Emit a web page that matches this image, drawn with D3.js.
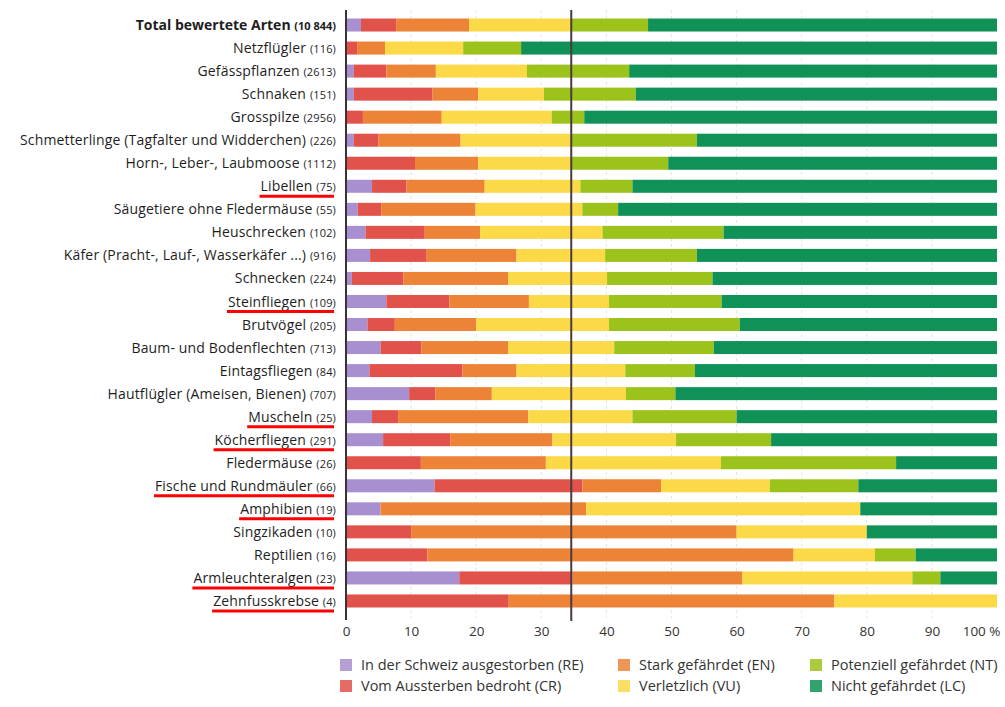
<!DOCTYPE html>
<html><head><meta charset="utf-8">
<script src="https://cdn.jsdelivr.net/npm/d3@7"></script>
<style>
html,body{margin:0;padding:0;background:#fff;}
svg{display:block;font-family:"Open Sans",sans-serif;}
</style></head>
<body><svg id="chart" width="1005" height="707"></svg>
<script>
// ---- data ----
const categories = ["Total bewertete Arten","Netzflügler","Gefässpflanzen","Schnaken","Grosspilze",
 "Schmetterlinge (Tagfalter und Widderchen)","Horn-, Leber-, Laubmoose","Libellen","Säugetiere ohne Fledermäuse",
 "Heuschrecken","Käfer (Pracht-, Lauf-, Wasserkäfer ...)","Schnecken","Steinfliegen","Brutvögel",
 "Baum- und Bodenflechten","Eintagsfliegen","Hautflügler (Ameisen, Bienen)","Muscheln","Köcherfliegen",
 "Fledermäuse","Fische und Rundmäuler","Amphibien","Singzikaden","Reptilien","Armleuchteralgen","Zehnfusskrebse"];
const counts = ["10 844","116","2613","151","2956","226","1112","75","55","102","916","224","109","205","713","84","707","25","291","26","66","19","10","16","23","4"];
const RE = [2.3,0,1.2,1.2,0,1.2,0,4.0,1.8,3.0,3.7,0.9,6.2,3.3,5.3,3.6,9.7,4,5.7,0,13.6,5.3,0,0,17.4,0];
const CR = [5.4,1.7,5.0,12.1,2.6,3.8,10.6,5.3,3.6,9.1,8.7,7.9,9.7,4.2,6.3,14.3,4.0,4,10.3,11.5,22.7,0,10,12.5,17.4,25];
const EN = [11.2,4.3,7.6,7.0,12.1,12.6,9.7,12.0,14.5,8.5,13.8,16.1,12.2,12.5,13.3,8.3,8.7,20,15.7,19.2,12.1,31.6,50,56.25,26.1,50];
const VU = [15.7,12.0,14.0,10.1,16.9,17.1,14.4,14.7,16.4,18.8,13.6,15.2,12.3,20.4,16.3,16.7,20.6,16,19.0,26.9,16.7,42.1,20,12.5,26.1,25];
const NT = [11.8,8.9,15.7,14.1,5.0,19.2,14.8,8.0,5.5,18.6,14.1,16.2,17.3,20.1,15.3,10.7,7.6,16,14.6,26.9,13.6,0,0,6.25,4.3,0];
const LC = [53.6,73.1,56.5,55.5,63.4,46.1,50.5,56.0,58.2,42.0,46.1,43.7,42.3,39.5,43.5,46.4,49.4,40,34.7,15.5,21.3,21.0,20,12.5,8.7,0];
const seriesKeys = ["RE","CR","EN","VU","NT","LC"];
const seriesNames = ["In der Schweiz ausgestorben (RE)","Vom Aussterben bedroht (CR)","Stark gefährdet (EN)","Verletzlich (VU)","Potenziell gefährdet (NT)","Nicht gefährdet (LC)"];
const seriesColors = ["#a88fcf","#e1524b","#ec8337","#fbd947","#9cc31c","#0f9157"];
const underlined = ["Libellen","Steinfliegen","Muscheln","Köcherfliegen","Fische und Rundmäuler","Amphibien","Armleuchteralgen","Zehnfusskrebse"];
const tickValues = [0,10,20,30,40,50,60,70,80,90,100];
const tickLabels = ["0","10","20","30","40","50","60","70","80","90","100 %"];

// ---- build table ----
const table = categories.map((c,i)=>({cat:c,count:counts[i],RE:RE[i],CR:CR[i],EN:EN[i],VU:VU[i],NT:NT[i],LC:LC[i]}));
const threatenedTotal = RE[0]+CR[0]+EN[0]+VU[0];

const svg = d3.select("#chart");
const x = d3.scaleLinear().domain([0,100]).range([346,997]);
const y = d3.scaleBand().domain(categories).range([13.5,612.5]).paddingInner(0.435).paddingOuter(0.2175);
const color = d3.scaleOrdinal().domain(seriesKeys).range(seriesColors);

// gridlines
svg.append("g").selectAll("line").data(tickValues.filter(v=>v>0&&v<100)).join("line")
  .attr("x1",d=>x(d)).attr("x2",d=>x(d)).attr("y1",10).attr("y2",618)
  .attr("stroke","#e4e4e4").attr("stroke-width",1).attr("stroke-dasharray","3,3");

// bars
const stacked = d3.stack().keys(seriesKeys)(table);
svg.append("g").selectAll("g").data(stacked).join("g")
  .attr("fill",d=>color(d.key))
  .selectAll("rect").data(d=>d).join("rect")
  .attr("x",d=>x(d[0])).attr("width",d=>Math.max(0,x(d[1])-x(d[0])))
  .attr("y",d=>y(d.data.cat)).attr("height",y.bandwidth());

// left axis line
svg.append("line").attr("x1",x(0)).attr("x2",x(0)).attr("y1",10).attr("y2",620)
  .attr("stroke","#3a3237").attr("stroke-width",2);
// threatened share line
svg.append("line").attr("x1",x(threatenedTotal)).attr("x2",x(threatenedTotal)).attr("y1",10).attr("y2",621)
  .attr("stroke","#4a3b3f").attr("stroke-width",2);

// bottom axis (labels only)
const xAxis = d3.axisBottom(x).tickValues(tickValues).tickFormat((d,i)=>tickLabels[i]).tickSize(0).tickPadding(0);
const ax = svg.append("g").attr("transform","translate(0,623)").call(xAxis);
ax.select(".domain").remove();
ax.selectAll("text").attr("font-family","'Open Sans',sans-serif").attr("font-size",13.5).attr("fill","#333").attr("dy","0.95em")
  .filter((d)=>d===100).attr("text-anchor","end").attr("dx","3");

// category labels
const lab = svg.append("g").selectAll("text").data(table).join("text")
  .attr("x",336).attr("y",d=>y(d.cat)+y.bandwidth()/2).attr("dy","0.36em")
  .attr("text-anchor","end").attr("fill","#1e1e1e").attr("font-size",14)
  .attr("letter-spacing",(d,i)=>i===0?"0":"0.15")
  .attr("font-weight",(d,i)=>i===0?"bold":"normal");
lab.append("tspan").text(d=>d.cat+" ");
lab.append("tspan").attr("font-size",11).text(d=>"("+d.count+")");

// underlines
lab.filter(d=>underlined.includes(d.cat)).each(function(d){
  const b = this.getBBox();
  svg.append("line").attr("x1",b.x-1).attr("x2",b.x+b.width-2)
    .attr("y1",y(d.cat)+y.bandwidth()/2+10).attr("y2",y(d.cat)+y.bandwidth()/2+10)
    .attr("stroke","#ff0000").attr("stroke-width",3);
});

// legend
const legCols = [340,618,810];
const legRows = [665,686];
const leg = svg.append("g").selectAll("g").data(seriesKeys).join("g")
  .attr("transform",(d,i)=>`translate(${legCols[Math.floor(i/2)]},${legRows[i%2]})`);
leg.append("rect").attr("x",0).attr("y",-6).attr("width",12).attr("height",12).attr("fill",d=>color(d)).attr("opacity",0.85);
leg.append("text").attr("x",21).attr("y",0).attr("dy","0.36em").attr("font-size",14.5).attr("fill","#333")
  .text((d,i)=>seriesNames[i]);
</script></body></html>
